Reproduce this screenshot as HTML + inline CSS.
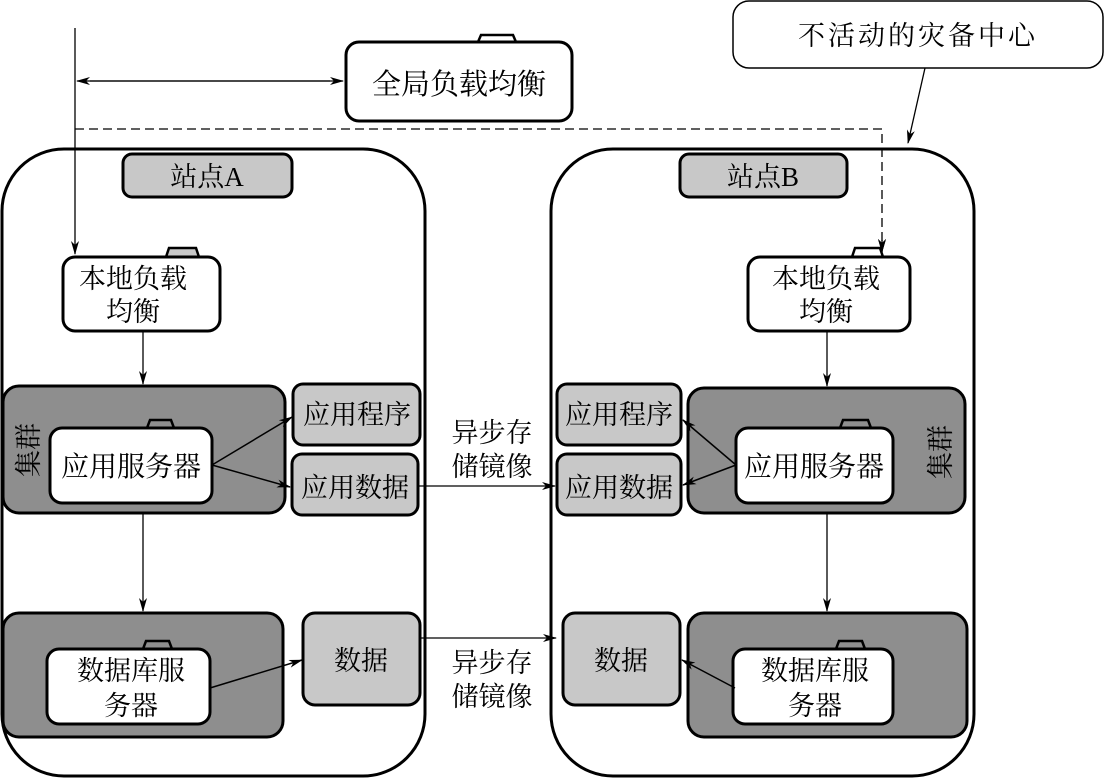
<!DOCTYPE html>
<html><head><meta charset="utf-8"><style>
html,body{margin:0;padding:0;background:#fff;width:1106px;height:780px;overflow:hidden}
text{font-family:"Liberation Serif","Noto Serif CJK SC","Noto Sans CJK SC",serif;fill:#000}
</style></head><body>
<svg width="1106" height="780" viewBox="0 0 1106 780" xmlns="http://www.w3.org/2000/svg">
<defs>
<marker id="ar" markerWidth="14" markerHeight="10" refX="13" refY="5" orient="auto" markerUnits="userSpaceOnUse">
<path d="M0,1 L14,5 L0,9 L4,5 Z" fill="#000"/></marker>
</defs>
<rect x="2" y="149" width="423" height="627" rx="62" fill="#fff" stroke="#000" stroke-width="3"/>
<rect x="551" y="149" width="423" height="627" rx="62" fill="#fff" stroke="#000" stroke-width="3"/>

<line x1="75" y1="28" x2="75" y2="254" stroke="#000" stroke-width="1.3" marker-end="url(#ar)"/>
<line x1="90" y1="81" x2="343" y2="81" stroke="#000" stroke-width="1.3" marker-end="url(#ar)"/>
<line x1="330" y1="81" x2="77" y2="81" stroke="#000" stroke-width="1.3" marker-end="url(#ar)"/>
<polyline points="75,129 882,129 882,252" fill="none" stroke="#000" stroke-width="1.3" stroke-dasharray="9,5" marker-end="url(#ar)"/>
<path d="M882,240 L882,252" stroke="#000" stroke-width="1.3" marker-end="url(#ar)"/>

<path d="M478,42 L481,35 L513,35 L516,42" fill="#fff" stroke="#000" stroke-width="2.5"/>
<rect x="346" y="42" width="226" height="79" rx="13" fill="#fff" stroke="#000" stroke-width="3"/>
<text x="459" y="94" font-size="29" text-anchor="middle">全局负载均衡</text>

<rect x="733" y="1" width="370" height="67" rx="16" fill="#fff" stroke="#000" stroke-width="1.5"/>
<text x="918" y="45" font-size="27" text-anchor="middle" letter-spacing="3">不活动的灾备中心</text>
<line x1="925" y1="68" x2="908" y2="143" stroke="#000" stroke-width="1.3" marker-end="url(#ar)"/>

<rect x="123" y="154" width="169" height="43" rx="9" fill="#c8c8c8" stroke="#000" stroke-width="3"/>
<text x="207" y="186" font-size="27" text-anchor="middle">站点A</text>
<rect x="680" y="154" width="167" height="43" rx="9" fill="#c8c8c8" stroke="#000" stroke-width="3"/>
<text x="763" y="186" font-size="27" text-anchor="middle">站点B</text>

<path d="M166,257 L169,248 L170,248 L196,248 L199,257" fill="#c8c8c8" stroke="#000" stroke-width="2.5"/>
<rect x="63" y="257" width="157" height="74" rx="12" fill="#fff" stroke="#000" stroke-width="3"/>
<text x="133" y="288" font-size="27" text-anchor="middle">本地负载</text>
<text x="133" y="321" font-size="27" text-anchor="middle">均衡</text>
<path d="M852,257 L855,248 L880,248 L883,257" fill="#fff" stroke="#000" stroke-width="2.5"/>
<rect x="748" y="257" width="162" height="74" rx="12" fill="#fff" stroke="#000" stroke-width="3"/>
<text x="826" y="288" font-size="27" text-anchor="middle">本地负载</text>
<text x="826" y="321" font-size="27" text-anchor="middle">均衡</text>

<line x1="143" y1="331" x2="143" y2="384" stroke="#000" stroke-width="1.3" marker-end="url(#ar)"/>
<line x1="827" y1="331" x2="827" y2="386" stroke="#000" stroke-width="1.3" marker-end="url(#ar)"/>

<rect x="3" y="386" width="282" height="127" rx="16" fill="#8e8e8e" stroke="#000" stroke-width="3"/>
<text font-size="27" transform="translate(38,450) rotate(-90)" text-anchor="middle">集群</text>
<path d="M147,428 L150,420 L171,420 L174,428" fill="#8e8e8e" stroke="#000" stroke-width="2.5"/>
<rect x="50" y="428" width="162" height="75" rx="12" fill="#fff" stroke="#000" stroke-width="3"/>
<text x="131" y="476" font-size="28" text-anchor="middle">应用服务器</text>

<rect x="293" y="384" width="127" height="61" rx="10" fill="#c8c8c8" stroke="#000" stroke-width="3"/>
<text x="357" y="424" font-size="27" text-anchor="middle">应用程序</text>
<rect x="292" y="454" width="126" height="61" rx="10" fill="#c8c8c8" stroke="#000" stroke-width="3"/>
<text x="355" y="497" font-size="27" text-anchor="middle">应用数据</text>
<line x1="212" y1="465" x2="292" y2="417" stroke="#000" stroke-width="1.5" marker-end="url(#ar)"/>
<line x1="212" y1="465" x2="290" y2="487" stroke="#000" stroke-width="1.5" marker-end="url(#ar)"/>

<text x="492" y="442" font-size="27" text-anchor="middle">异步存</text>
<text x="492" y="476" font-size="27" text-anchor="middle">储镜像</text>
<line x1="418" y1="486" x2="555" y2="486" stroke="#000" stroke-width="1.3" marker-end="url(#ar)"/>

<rect x="688" y="388" width="277" height="125" rx="16" fill="#8e8e8e" stroke="#000" stroke-width="3"/>
<text font-size="27" transform="translate(950,452) rotate(-90)" text-anchor="middle">集群</text>
<path d="M840,428 L843,420 L868,420 L871,428" fill="#8e8e8e" stroke="#000" stroke-width="2.5"/>
<rect x="736" y="428" width="157" height="75" rx="12" fill="#fff" stroke="#000" stroke-width="3"/>
<text x="814" y="476" font-size="28" text-anchor="middle">应用服务器</text>
<rect x="557" y="384" width="124" height="61" rx="10" fill="#c8c8c8" stroke="#000" stroke-width="3"/>
<text x="619" y="424" font-size="27" text-anchor="middle">应用程序</text>
<rect x="557" y="454" width="124" height="61" rx="10" fill="#c8c8c8" stroke="#000" stroke-width="3"/>
<text x="619" y="497" font-size="27" text-anchor="middle">应用数据</text>
<line x1="736" y1="465" x2="683" y2="420" stroke="#000" stroke-width="1.5" marker-end="url(#ar)"/>
<line x1="736" y1="465" x2="683" y2="485" stroke="#000" stroke-width="1.5" marker-end="url(#ar)"/>

<line x1="143" y1="513" x2="143" y2="611" stroke="#000" stroke-width="1.3" marker-end="url(#ar)"/>
<line x1="827" y1="513" x2="827" y2="611" stroke="#000" stroke-width="1.3" marker-end="url(#ar)"/>

<rect x="3" y="613" width="280" height="124" rx="16" fill="#8e8e8e" stroke="#000" stroke-width="3"/>
<path d="M143,649 L146,641 L169,641 L172,649" fill="#8e8e8e" stroke="#000" stroke-width="2.5"/>
<rect x="47" y="649" width="163" height="75" rx="12" fill="#fff" stroke="#000" stroke-width="3"/>
<text x="131" y="680" font-size="27" text-anchor="middle">数据库服</text>
<text x="131" y="715" font-size="27" text-anchor="middle">务器</text>
<rect x="303" y="613" width="117" height="92" rx="12" fill="#c8c8c8" stroke="#000" stroke-width="3"/>
<text x="361" y="670" font-size="27" text-anchor="middle">数据</text>
<line x1="210" y1="688" x2="302" y2="660" stroke="#000" stroke-width="1.5" marker-end="url(#ar)"/>

<line x1="420" y1="638" x2="556" y2="638" stroke="#000" stroke-width="1.3" marker-end="url(#ar)"/>
<text x="492" y="672" font-size="27" text-anchor="middle">异步存</text>
<text x="492" y="706" font-size="27" text-anchor="middle">储镜像</text>

<rect x="688" y="613" width="279" height="124" rx="16" fill="#8e8e8e" stroke="#000" stroke-width="3"/>
<path d="M836,649 L839,641 L862,641 L865,649" fill="#8e8e8e" stroke="#000" stroke-width="2.5"/>
<rect x="733" y="649" width="160" height="75" rx="12" fill="#fff" stroke="#000" stroke-width="3"/>
<text x="815" y="680" font-size="27" text-anchor="middle">数据库服</text>
<text x="815" y="715" font-size="27" text-anchor="middle">务器</text>
<rect x="563" y="613" width="117" height="92" rx="12" fill="#c8c8c8" stroke="#000" stroke-width="3"/>
<text x="621" y="670" font-size="27" text-anchor="middle">数据</text>
<line x1="735" y1="688" x2="682" y2="660" stroke="#000" stroke-width="1.5" marker-end="url(#ar)"/>
</svg>
</body></html>
